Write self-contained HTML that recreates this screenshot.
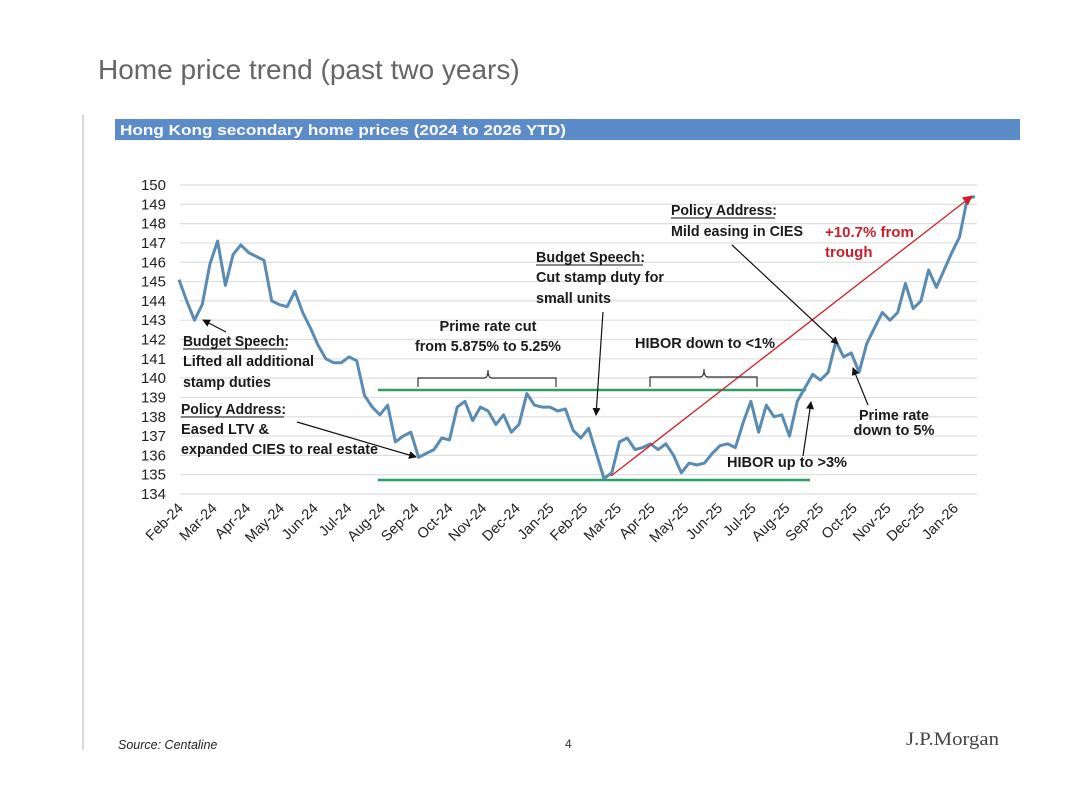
<!DOCTYPE html>
<html><head><meta charset="utf-8"><style>
html,body{margin:0;padding:0;background:#fff;}
svg{display:block;font-family:"Liberation Sans",Arial,sans-serif;}
.ann{font-size:15px;font-weight:bold;fill:#1a1a1a;}
.xl{font-size:14.5px;fill:#222;}
.yl{font-size:15px;fill:#222;}
</style></head><body>
<svg id="chart" width="1080" height="788" viewBox="0 0 1080 788">
<text x="98" y="79" font-size="28" fill="#666">Home price trend (past two years)</text>
<line x1="83" y1="115" x2="83" y2="750" stroke="#ccc" stroke-width="1.5"/>
<rect x="115" y="119" width="905" height="21" fill="#5b8bc8"/>
<text x="120" y="135" font-size="15" font-weight="bold" fill="#fff" textLength="446" lengthAdjust="spacingAndGlyphs">Hong Kong secondary home prices (2024 to 2026 YTD)</text>
<g id="grid"></g>
<g id="yaxis"></g>
<g id="xaxis"></g>
<line x1="378" y1="390" x2="806" y2="390" stroke="#2e9e62" stroke-width="2.5"/>
<line x1="378" y1="480" x2="810" y2="480" stroke="#2e9e62" stroke-width="2.5"/>
<path id="series" fill="none" stroke="#5a8bb2" stroke-width="3" stroke-linejoin="round"/>
<defs>
<marker id="ah" markerWidth="8" markerHeight="8" refX="7" refY="4" orient="auto" markerUnits="userSpaceOnUse"><path d="M0,0 L8,4 L0,8 z" fill="#111"/></marker>
<marker id="ahr" markerWidth="10" markerHeight="10" refX="9" refY="5" orient="auto" markerUnits="userSpaceOnUse"><path d="M0,0 L10,5 L0,10 z" fill="#d0202a"/></marker>
</defs>
<line x1="611" y1="476" x2="972" y2="196" stroke="#d0202a" stroke-width="1.3" marker-end="url(#ahr)"/>
<text class="ann" x="825" y="237" style="fill:#c8202a"><tspan x="825">+10.7% from</tspan><tspan x="825" y="257">trough</tspan></text>
<g>
<text class="ann" x="183" y="346" textLength="106" lengthAdjust="spacingAndGlyphs">Budget Speech:</text>
<line x1="183" y1="349" x2="287" y2="349" stroke="#111"/>
<text class="ann" x="183" y="366" textLength="131" lengthAdjust="spacingAndGlyphs">Lifted all additional</text>
<text class="ann" x="183" y="387" textLength="88" lengthAdjust="spacingAndGlyphs">stamp duties</text>
<line x1="226" y1="332" x2="203" y2="320" stroke="#111" stroke-width="1.2" marker-end="url(#ah)"/>
</g>
<g>
<text class="ann" x="181" y="414" textLength="105" lengthAdjust="spacingAndGlyphs">Policy Address:</text>
<line x1="181" y1="417" x2="284" y2="417" stroke="#111"/>
<text class="ann" x="181" y="434" textLength="88" lengthAdjust="spacingAndGlyphs">Eased LTV &amp;</text>
<text class="ann" x="181" y="454" textLength="197" lengthAdjust="spacingAndGlyphs">expanded  CIES to real estate</text>
<line x1="297" y1="422" x2="416" y2="457" stroke="#111" stroke-width="1.2" marker-end="url(#ah)"/>
</g>
<g>
<text class="ann" x="488" y="331" text-anchor="middle" textLength="97" lengthAdjust="spacingAndGlyphs">Prime rate cut</text>
<text class="ann" x="488" y="351" text-anchor="middle" textLength="146" lengthAdjust="spacingAndGlyphs">from 5.875% to 5.25%</text>
<path d="M418,387 L418,378 L484,378 Q488,378 488,370 Q488,378 492,378 L556,378 L556,387" fill="none" stroke="#333" stroke-width="1.2"/>
</g>
<g>
<text class="ann" x="536" y="262" textLength="109" lengthAdjust="spacingAndGlyphs">Budget Speech:</text>
<line x1="536" y1="265" x2="643" y2="265" stroke="#111"/>
<text class="ann" x="536" y="282" textLength="128" lengthAdjust="spacingAndGlyphs">Cut stamp duty for</text>
<text class="ann" x="536" y="303" textLength="75" lengthAdjust="spacingAndGlyphs">small units</text>
<line x1="603" y1="312" x2="596" y2="415" stroke="#111" stroke-width="1.2" marker-end="url(#ah)"/>
</g>
<g>
<text class="ann" x="635" y="348" textLength="140" lengthAdjust="spacingAndGlyphs">HIBOR down to &lt;1%</text>
<path d="M650,387 L650,377 L700,377 Q704,377 704,369 Q704,377 708,377 L757,377 L757,387" fill="none" stroke="#333" stroke-width="1.2"/>
</g>
<g>
<text class="ann" x="671" y="215" textLength="106" lengthAdjust="spacingAndGlyphs">Policy Address:</text>
<line x1="671" y1="218" x2="775" y2="218" stroke="#111"/>
<text class="ann" x="671" y="236" textLength="132" lengthAdjust="spacingAndGlyphs">Mild easing in CIES</text>
<line x1="732" y1="245" x2="838" y2="344" stroke="#111" stroke-width="1.2" marker-end="url(#ah)"/>
</g>
<g>
<text class="ann" x="727" y="467" textLength="120" lengthAdjust="spacingAndGlyphs">HIBOR up to &gt;3%</text>
<line x1="803" y1="456" x2="811" y2="402" stroke="#111" stroke-width="1.2" marker-end="url(#ah)"/>
</g>
<g>
<text class="ann" x="894" y="420" text-anchor="middle" textLength="70" lengthAdjust="spacingAndGlyphs">Prime rate</text>
<text class="ann" x="894" y="435" text-anchor="middle" textLength="81" lengthAdjust="spacingAndGlyphs">down to 5%</text>
<line x1="868" y1="405" x2="853" y2="368" stroke="#111" stroke-width="1.2" marker-end="url(#ah)"/>
</g>
<text x="118" y="749" font-size="12.5" font-style="italic" fill="#222">Source: Centaline</text>
<text x="565" y="748" font-size="12" fill="#333">4</text>
<text x="906" y="745" font-size="19" font-family="Liberation Serif, serif" fill="#444" textLength="93" lengthAdjust="spacingAndGlyphs">J.P.Morgan</text>
</svg>
<script>
const yTicks = [134,135,136,137,138,139,140,141,142,143,144,145,146,147,148,149,150];
const xTickLabels = ["Feb-24","Mar-24","Apr-24","May-24","Jun-24","Jul-24","Aug-24","Sep-24","Oct-24","Nov-24","Dec-24","Jan-25","Feb-25","Mar-25","Apr-25","May-25","Jun-25","Jul-25","Aug-25","Sep-25","Oct-25","Nov-25","Dec-25","Jan-26"];
const prices = [145.1,144.0,143.0,143.8,145.9,147.1,144.8,146.4,146.9,146.5,146.3,146.1,144.0,143.8,143.7,144.5,143.4,142.6,141.7,141.0,140.8,140.8,141.1,140.9,139.1,138.5,138.1,138.6,136.7,137.0,137.2,135.9,136.1,136.3,136.9,136.8,138.5,138.8,137.8,138.5,138.3,137.6,138.1,137.2,137.6,139.2,138.6,138.5,138.5,138.3,138.4,
137.3,136.9,137.4,136.1,134.8,135.1,136.7,136.9,136.3,136.4,136.6,136.3,136.6,136.0,135.1,135.6,135.5,135.6,136.1,136.5,136.6,136.4,137.7,138.8,137.2,138.6,138.0,138.1,137.0,138.8,139.5,140.2,139.9,140.3,141.9,141.1,141.3,140.3,141.8,142.6,143.4,143.0,143.4,144.9,143.6,144.0,145.6,144.7,145.6,146.5,147.3,149.3,149.4];
const NS='http://www.w3.org/2000/svg';
const yMin=134,yMax=150,yTop=185,yBot=494,xL=179,xR=975;
const yS=v=>yBot-(v-yMin)/(yMax-yMin)*(yBot-yTop);
const xS=i=>xL+i*(xR-xL)/(prices.length-1);
const xTick=i=>184+i*33.7;
const grid=document.getElementById('grid'),ya=document.getElementById('yaxis'),xa=document.getElementById('xaxis');
yTicks.forEach(t=>{
  const l=document.createElementNS(NS,'line');
  l.setAttribute('x1',180);l.setAttribute('x2',977);l.setAttribute('y1',yS(t));l.setAttribute('y2',yS(t));
  l.setAttribute('stroke','#dedede');l.setAttribute('stroke-width','1.2');
  
  
  grid.appendChild(l);
  const tx=document.createElementNS(NS,'text');
  tx.setAttribute('x',166);tx.setAttribute('y',yS(t)+5);tx.setAttribute('text-anchor','end');tx.setAttribute('class','yl');
  tx.textContent=t;
  
  
  ya.appendChild(tx);
});
xTickLabels.forEach((s,i)=>{
  const tx=document.createElementNS(NS,'text');
  const x=xTick(i),y=509;
  tx.setAttribute('x',x);tx.setAttribute('y',y);tx.setAttribute('text-anchor','end');tx.setAttribute('class','xl');
  tx.setAttribute('transform','rotate(-45 '+x+' '+y+')');
  tx.textContent=s;
  
  
  xa.appendChild(tx);
});
document.getElementById('series').setAttribute('d',prices.map((v,i)=>(i?'L':'M')+xS(i).toFixed(1)+','+yS(v).toFixed(1)).join(' '));
</script>
</body></html>
